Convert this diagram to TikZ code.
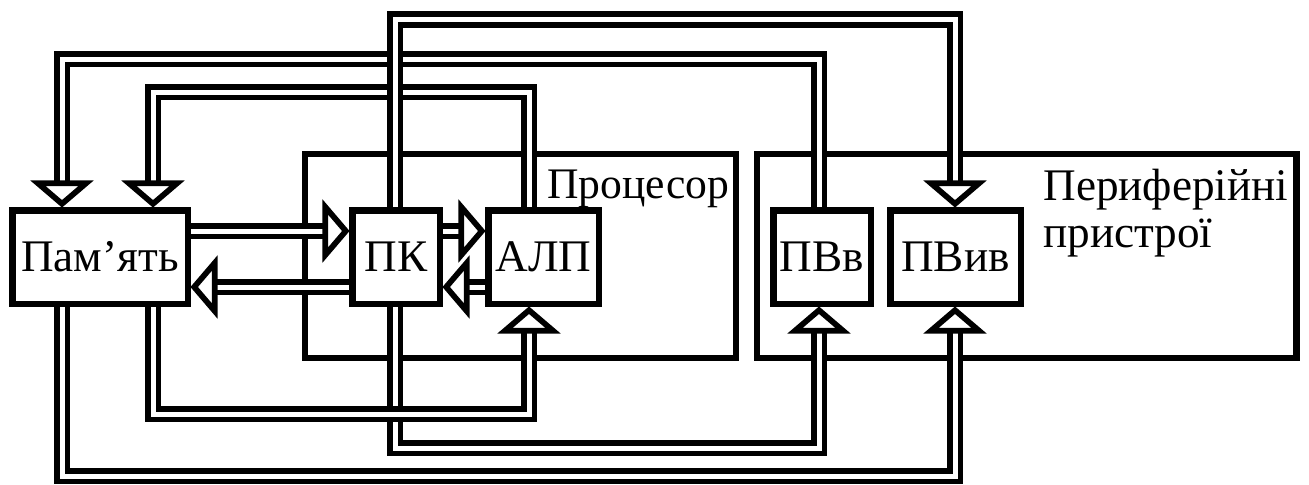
\documentclass[tikz,border=0pt]{standalone}
\usepackage{fontspec}
\setmainfont{Liberation Serif}
\newcommand\diagfont{\fontsize{22.6}{26}\selectfont}
\newcommand\procfont{\fontsize{21.8}{26}\selectfont}
\begin{document}
\begin{tikzpicture}[x=0.5pt, y=-0.5pt,
  blk/.style={draw, line width=3.25pt, minimum height=46.75pt, inner sep=0pt, font=\diagfont},
  frame/.style={draw, line width=3.25pt, inner sep=0pt, minimum height=102pt},
  bus/.style={draw, line width=2.85pt, double=white, double distance=2.5pt, line join=miter, shorten >=8pt},
  head/.style={draw, fill=white, line width=2.85pt, line join=miter, miter limit=20},
  caption/.style={anchor=base west, inner sep=0pt, font=\diagfont},
  bushead/.pic={\path[head] (-3.2,0) -- (-23.7,24) -- (-23.7,-24) -- cycle;}
]
\useasboundingbox (0,0) rectangle (1309,484);

% enclosing frames
\node[frame, minimum width=215.5pt] (proc) at (520.5,256) {};
\node[frame, minimum width=269.75pt] (periph) at (1026.75,256) {};
\node[caption, font=\procfont] (proclabel) at (547,198) {Процесор};
\node[caption] (perlabel1) at (1043,200) {Периферійні};
\node[caption] (perlabel2) at (1043,247) {пристрої};

% functional blocks
\node[blk, minimum width=87.75pt] (mem)  at (100,257)   {Пам’ять};
\node[blk, minimum width=43.75pt] (pk)   at (396,257)   {ПК};
\node[blk, minimum width=55.25pt] (alu)  at (543.5,257) {АЛП};
\node[blk, minimum width=48.75pt] (pvv)  at (822,257)   {ПВв};
\node[blk, minimum width=65.25pt] (pviv) at (955.5,257) {ПВив};

% bus columns and rows
\coordinate (xa) at (62,0);
\coordinate (xb) at (153,0);
\coordinate (xc) at (395,0);
\coordinate (xd) at (529,0);
\coordinate (xe) at (819,0);
\coordinate (xf) at (955,0);
\coordinate (yc) at (0,19.5);
\coordinate (ya) at (0,59);
\coordinate (yb) at (0,92);
\coordinate (yd) at (0,231);
\coordinate (ye) at (0,287);
\coordinate (yh) at (0,414);
\coordinate (yi) at (0,448);
\coordinate (yj) at (0,476);

% lower buses
\draw[bus] (xc |- pk.south) |- (xe |- yi) -- (xe |- pvv.south);
\draw[bus] (xb |- mem.south) |- (xd |- yh) -- (xd |- alu.south);
\draw[bus] (xa |- mem.south) |- (xf |- yj) -- (xf |- pviv.south);

% upper buses
\draw[bus] (xe |- pvv.north) |- (xa |- ya) -- (xa |- mem.north);
\draw[bus] (xd |- alu.north) |- (xb |- yb) -- (xb |- mem.north);
\draw[bus] (xc |- pk.north) |- (xf |- yc) -- (xf |- pviv.north);

% horizontal buses between blocks
\draw[bus] (mem.east |- yd) -- (pk.west |- yd);
\draw[bus] (pk.west |- ye) -- (mem.east |- ye);
\draw[bus] (pk.east |- yd) -- (alu.west |- yd);
\draw[bus] (alu.west |- ye) -- (pk.east |- ye);

% arrowheads
\pic[rotate=-90] at (xa |- mem.north) {bushead};
\pic[rotate=-90] at (xb |- mem.north) {bushead};
\pic[rotate=-90] at (xf |- pviv.north) {bushead};
\pic at (pk.west |- yd) {bushead};
\pic at (alu.west |- yd) {bushead};
\pic[rotate=180] at (mem.east |- ye) {bushead};
\pic[rotate=180] at (pk.east |- ye) {bushead};
\pic[rotate=90] at (xd |- alu.south) {bushead};
\pic[rotate=90] at (xe |- pvv.south) {bushead};
\pic[rotate=90] at (xf |- pviv.south) {bushead};
\end{tikzpicture}
\end{document}
